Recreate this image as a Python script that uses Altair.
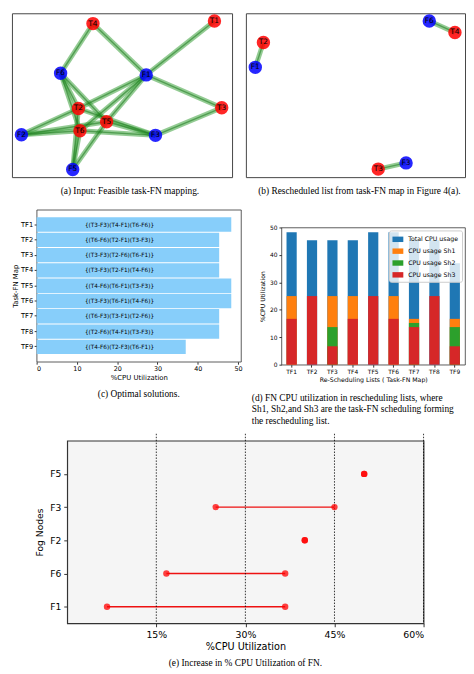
import altair as alt
import pandas as pd

FONT = "DejaVu Sans"
SERIF = "Liberation Serif"

# ---------------- (a) feasible task-FN mapping (network layout coords) ----------
a_nodes = ["T4", "T1", "F6", "F1", "T2", "T3", "T5", "T6", "F2", "F3", "F5"]
a_x = [0.368, 0.920, 0.221, 0.610, 0.302, 0.953, 0.430, 0.309, 0.043, 0.652, 0.276]
a_y = [0.937, 0.953, 0.634, 0.624, 0.419, 0.423, 0.338, 0.283, 0.259, 0.255, 0.047]
a_src = ["T1", "T2", "T2", "T2", "T2", "T2", "T3", "T3", "T4", "T4",
         "T5", "T5", "T5", "T5", "T5", "T6", "T6", "T6", "T6", "T6"]
a_dst = ["F1", "F1", "F2", "F5", "F6", "F3", "F1", "F3", "F1", "F6",
         "F1", "F2", "F3", "F5", "F6", "F1", "F2", "F3", "F5", "F6"]

# ---------------- (b) rescheduled list ----------
b_nodes = ["F6", "T4", "T2", "F1", "F3", "T3"]
b_x = [0.837, 0.954, 0.080, 0.043, 0.731, 0.604]
b_y = [0.953, 0.883, 0.822, 0.670, 0.087, 0.049]
b_src = ["T4", "T2", "T3"]
b_dst = ["F6", "F1", "F3"]

# ---------------- (c) optimal solutions ----------
tf = ["TF1", "TF2", "TF3", "TF4", "TF5", "TF6", "TF7", "TF8", "TF9"]
c_util = [48.3, 45.3, 45.3, 45.3, 48.3, 48.3, 45.3, 45.3, 37.0]
c_sched = ["{(T3-F3)(T4-F1)(T6-F6)}", "{(T6-F6)(T2-F1)(T3-F3)}", "{(T3-F3)(T2-F6)(T6-F1)}",
           "{(T3-F3)(T2-F1)(T4-F6)}", "{(T4-F6)(T6-F1)(T3-F3)}", "{(T3-F3)(T6-F1)(T4-F6)}",
           "{(T6-F3)(T3-F1)(T2-F6)}", "{(T2-F6)(T4-F1)(T3-F3)}", "{(T4-F6)(T2-F3)(T6-F1)}"]
c_ticks = [0, 10, 20, 30, 40, 50]

# ---------------- (d) CPU utilization in rescheduling lists ----------
d_series = ["Total CPU usage", "CPU usage Sh1", "CPU usage Sh2", "CPU usage Sh3"]
d_colors = ["#1f77b4", "#ff7f0e", "#2ca02c", "#d62728"]
d_total = [48.3, 45.3, 45.3, 45.3, 48.3, 48.3, 45.3, 45.3, 37.0]
d_sh1 = [25.0, 0.0, 25.0, 25.0, 0.0, 25.0, 16.7, 0.0, 16.7]
d_sh2 = [0.0, 0.0, 13.7, 0.0, 0.0, 0.0, 15.2, 0.0, 13.7]
d_sh3 = [16.7, 25.0, 6.7, 16.7, 25.0, 16.7, 13.7, 25.0, 6.7]
d_ticks = [0, 10, 20, 30, 40, 50]

# ---------------- (e) increase in % CPU utilization ----------
fog = ["F1", "F6", "F2", "F3", "F5"]
fog_pos = [1, 2, 3, 4, 5]
e_start = [6.7, 16.7, 40.0, 25.0, 50.0]
e_end = [36.7, 36.7, 40.0, 45.0, 50.0]
e_ticks = [15, 30, 45, 60]


def spacer(w, h):
    return alt.Chart(pd.DataFrame({"v": [0]})).mark_rect(opacity=0).encode(
        x=alt.value(0), x2=alt.value(w), y=alt.value(0), y2=alt.value(h)
    ).properties(width=w, height=h, view=alt.ViewBackground(stroke="transparent"))


def network(nodes, xs, ys, src, dst, w, h, caption, cap_dx):
    ndf = pd.DataFrame({"node": nodes, "x": xs, "y": ys,
                        "kind": ["task" if n.startswith("T") else "fn" for n in nodes]})
    pos = {n: (x, y) for n, x, y in zip(nodes, xs, ys)}
    edf = pd.DataFrame({
        "x": [pos[s][0] for s in src], "y": [pos[s][1] for s in src],
        "x2": [pos[t][0] for t in dst], "y2": [pos[t][1] for t in dst]})
    X = alt.X("x:Q", scale=alt.Scale(domain=[0, 1], nice=False, zero=False), axis=None)
    Y = alt.Y("y:Q", scale=alt.Scale(domain=[0, 1], nice=False, zero=False), axis=None)
    e1 = alt.Chart(edf).mark_rule(color="#3aa03a", strokeWidth=5, opacity=0.55).encode(
        x=X, y=Y, x2="x2:Q", y2="y2:Q")
    e2 = alt.Chart(edf).mark_rule(color="#1c7a1c", strokeWidth=1.4, opacity=0.55).encode(
        x=X, y=Y, x2="x2:Q", y2="y2:Q")
    dots = alt.Chart(ndf).mark_circle(size=185, opacity=0.85).encode(
        x=X, y=Y,
        color=alt.condition("datum.kind == 'task'", alt.value("#ff0000"), alt.value("#0000ff")))
    lab = alt.Chart(ndf).mark_text(font=FONT, fontSize=7.5, color="black").encode(
        x=X, y=Y, text="node:N")
    return alt.layer(e1, e2, dots, lab).properties(
        width=w, height=h,
        view=alt.ViewBackground(stroke="#444444", strokeWidth=1),
        title=alt.TitleParams(caption, orient="bottom", anchor="middle", dx=cap_dx, offset=9,
                              font=SERIF, fontSize=9.5, fontWeight="normal", color="black"))


a = network(a_nodes, a_x, a_y, a_src, a_dst, 223, 166,
            "(a) Input: Feasible task-FN mapping.", 8)
b = network(b_nodes, b_x, b_y, b_src, b_dst, 222, 166,
            "(b) Rescheduled list from task-FN map in Figure 4(a).", 4)

# ---------------- (c) ----------
cdf = pd.DataFrame({"tf": tf, "u": c_util, "s": c_sched})
Yc = alt.Y("tf:N", sort=tf, scale=alt.Scale(paddingInner=0.06, paddingOuter=0.5),
           axis=alt.Axis(title="Task-FN Map", labelFont=FONT, labelFontSize=6.8, labelColor="black",
                         tickSize=2.5, tickColor="#333333", labelPadding=1.5, domain=False,
                         titleFont=FONT, titleFontSize=7, titleFontWeight="normal",
                         titleColor="black", titlePadding=2))
Xc = alt.X("u:Q", scale=alt.Scale(domain=[0, 50.7], nice=False),
           axis=alt.Axis(values=c_ticks, title="%CPU Utilization", grid=False, labelFont=FONT,
                         labelFontSize=6.5, labelColor="black", tickSize=2.5, tickColor="#333333",
                         labelPadding=1.5, domain=False, titleFont=FONT, titleFontSize=7,
                         titleFontWeight="normal", titleColor="black", titlePadding=2))
c_bars = alt.Chart(cdf).mark_bar(color="#87cefa").encode(x=Xc, y=Yc)
c_text = alt.Chart(cdf).mark_text(align="left", font=FONT, fontSize=5.8, color="black").encode(
    x=alt.datum(12), y=alt.Y("tf:N", sort=tf), text="s:N")
c = alt.layer(c_bars, c_text).properties(
    width=207, height=154,
    view=alt.ViewBackground(stroke="#333333", strokeWidth=0.8),
    title=alt.TitleParams("(c) Optimal solutions.", orient="bottom", anchor="middle", offset=8,
                          font=SERIF, fontSize=9.5, fontWeight="normal", color="black"))

# ---------------- (d) ----------
rows = []
for i, t in enumerate(tf):
    for k, (s, v) in enumerate(zip(d_series, [d_total[i], d_sh1[i], d_sh2[i], d_sh3[i]])):
        rows.append({"tf": t, "series": s, "v": v, "k": k})
ddf = pd.DataFrame(rows)
d = alt.Chart(ddf).mark_bar().encode(
    x=alt.X("tf:N", sort=tf, scale=alt.Scale(paddingInner=0.5, paddingOuter=0.25),
            axis=alt.Axis(title="Re-Scheduling Lists ( Task-FN Map)", labelAngle=0, labelFont=FONT,
                          labelFontSize=6, labelColor="black", tickSize=2.5, tickColor="#333333",
                          labelPadding=1.5, domain=False, titleFont=FONT, titleFontSize=6.3,
                          titleFontWeight="normal", titleColor="black", titlePadding=2)),
    y=alt.Y("v:Q", stack=None, scale=alt.Scale(domain=[0, 50], nice=False),
            axis=alt.Axis(values=d_ticks, title="%CPU Utilization", grid=False, labelFont=FONT,
                          labelFontSize=6, labelColor="black", tickSize=2.5, tickColor="#333333",
                          labelPadding=2, domain=False, titleFont=FONT, titleFontSize=6.2,
                          titleFontWeight="normal", titleColor="black", titlePadding=3.5)),
    color=alt.Color("series:N", scale=alt.Scale(domain=d_series, range=d_colors),
                    legend=alt.Legend(title=None, orient="top-right", offset=3,
                                      fillColor="rgba(255,255,255,0.8)", strokeColor="#cccccc",
                                      padding=3.5, cornerRadius=2, labelFont=FONT,
                                      labelFontSize=6.3, labelColor="black", rowPadding=3,
                                      symbolType="M-1,-0.5H1V0.5H-1Z", symbolSize=121,
                                      symbolStrokeWidth=0, labelOffset=5)),
    order=alt.Order("k:Q"),
).properties(
    width=186, height=139,
    view=alt.ViewBackground(stroke="#333333", strokeWidth=0.8),
    title=alt.TitleParams(["(d) FN CPU utilization in rescheduling lists, where",
                           "Sh1, Sh2,and Sh3 are the task-FN scheduling forming",
                           "the rescheduling list."],
                          orient="bottom", anchor="start", frame="group", dx=-30, offset=10,
                          lineHeight=12, font=SERIF, fontSize=9.5, fontWeight="normal",
                          color="black"))

d_group = alt.vconcat(spacer(10, 13), d, spacing=0).resolve_scale(
    color="independent").resolve_legend(color="independent")

# ---------------- (e) ----------
edf = pd.DataFrame({"fog": fog, "pos": fog_pos, "start": e_start, "end": e_end})
label_arr = "[''," + ",".join("'%s'" % f for f in fog) + "]"
Ye = alt.Y("pos:Q", scale=alt.Scale(domain=[0.5, 6.0], nice=False, zero=False),
           axis=alt.Axis(values=fog_pos, labelExpr=label_arr + "[datum.value]", title="Fog Nodes",
                         grid=False, labelFont=FONT, labelFontSize=9.3, labelColor="black",
                         tickSize=3.5, tickColor="#333333", labelPadding=3, domain=False,
                         titleFont=FONT, titleFontSize=9.3, titleFontWeight="normal",
                         titleColor="black", titlePadding=5))
Xe = alt.X("start:Q", scale=alt.Scale(domain=[0, 60], nice=False),
           axis=alt.Axis(values=e_ticks, labelExpr="datum.value + '%'", title="%CPU Utilization",
                         grid=False, labelFont=FONT, labelFontSize=9.5, labelColor="black",
                         tickSize=3.5, tickColor="#333333", labelPadding=3, domain=False,
                         titleFont=FONT, titleFontSize=9.8, titleFontWeight="normal",
                         titleColor="black", titlePadding=3))
grid = alt.Chart(pd.DataFrame({"t": e_ticks})).mark_rule(
    color="black", strokeWidth=0.8, strokeDash=[1.5, 1.5]).encode(
    x=alt.X("t:Q"), y=alt.value(-7), y2=alt.value(185))
seg = alt.Chart(edf).mark_rule(color="#ee1111", strokeWidth=1.4).encode(x=Xe, x2="end:Q", y=Ye)
p1 = alt.Chart(edf).mark_circle(size=42, color="#ff0000", opacity=0.75).encode(x=Xe, y=Ye)
p2 = alt.Chart(edf).mark_circle(size=42, color="#ff0000", opacity=0.75).encode(
    x=alt.X("end:Q"), y=Ye)
e = alt.layer(seg, grid, p1, p2).properties(
    width=361, height=185,
    view=alt.ViewBackground(fill="#f5f5f5", stroke="#333333", strokeWidth=1.2),
    title=alt.TitleParams("(e) Increase in % CPU Utilization of FN.", orient="bottom",
                          anchor="middle", frame="group", offset=6, font=SERIF, fontSize=9.5,
                          fontWeight="normal", color="black"))

row1 = alt.hconcat(spacer(1, 10), alt.hconcat(a, b, spacing=12), spacing=0)
row2_inner = alt.hconcat(c, d_group, spacing=8).resolve_scale(
    color="independent").resolve_legend(color="independent")
row2 = alt.hconcat(spacer(1, 10), row2_inner, spacing=0).resolve_scale(
    color="independent").resolve_legend(color="independent")
row3 = alt.hconcat(spacer(25, 10), e, spacing=0)

inner = alt.vconcat(row1, row2, spacing=13).resolve_scale(color="independent").resolve_legend(
    color="independent")
chart = alt.vconcat(inner, row3, spacing=6).resolve_scale(color="independent").resolve_legend(
    color="independent").properties(padding=0)

chart.save("out.html", embed_options={"renderer": "svg", "actions": False})
